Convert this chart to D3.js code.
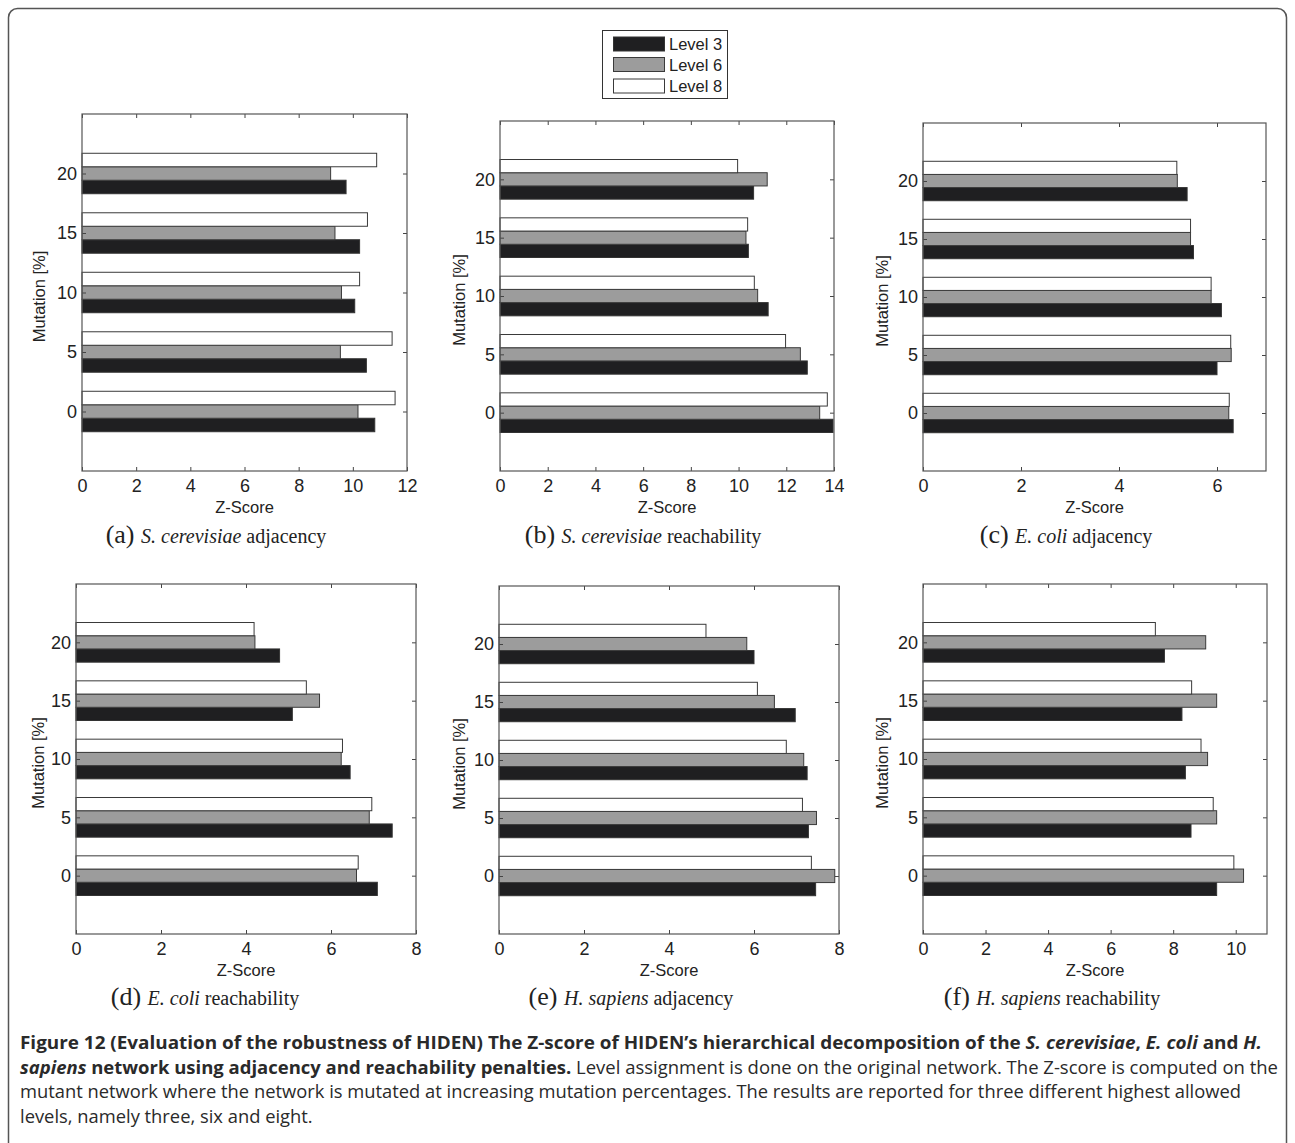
<!DOCTYPE html>
<html><head><meta charset="utf-8">
<script src="https://cdn.jsdelivr.net/npm/d3@7"></script>
<style>body{margin:0;background:#fff}svg{display:block}</style></head>
<body><svg id="c" width="1295" height="1143"></svg>
<script>
// ---------- data ----------
const mutations = [0, 5, 10, 15, 20];
const levels = ["Level 3", "Level 6", "Level 8"];
// (a) S. cerevisiae adjacency
const aL3 = [10.81, 10.50, 10.07, 10.25, 9.75];
const aL6 = [10.19, 9.54, 9.58, 9.34, 9.18];
const aL8 = [11.56, 11.45, 10.25, 10.54, 10.88];
// (b) S. cerevisiae reachability
const bL3 = [13.96, 12.88, 11.24, 10.41, 10.63];
const bL6 = [13.40, 12.59, 10.80, 10.31, 11.20];
const bL8 = [13.72, 11.97, 10.66, 10.38, 9.96];
// (c) E. coli adjacency
const cL3 = [6.33, 6.00, 6.09, 5.52, 5.39];
const cL6 = [6.24, 6.29, 5.88, 5.46, 5.19];
const cL8 = [6.25, 6.28, 5.88, 5.46, 5.18];
// (d) E. coli reachability
const dL3 = [7.09, 7.44, 6.45, 5.09, 4.79];
const dL6 = [6.60, 6.90, 6.24, 5.73, 4.21];
const dL8 = [6.64, 6.96, 6.27, 5.42, 4.19];
// (e) H. sapiens adjacency
const eL3 = [7.45, 7.28, 7.25, 6.97, 6.00];
const eL6 = [7.90, 7.47, 7.17, 6.48, 5.83];
const eL8 = [7.35, 7.14, 6.76, 6.08, 4.87];
// (f) H. sapiens reachability
const fL3 = [9.39, 8.57, 8.39, 8.28, 7.72];
const fL6 = [10.25, 9.39, 9.10, 9.39, 9.04];
const fL8 = [9.94, 9.28, 8.89, 8.59, 7.43];

const xMaxes = [12, 14, 7, 8, 8, 11];
const xTickLists = [
  [0, 2, 4, 6, 8, 10, 12],
  [0, 2, 4, 6, 8, 10, 12, 14],
  [0, 2, 4, 6],
  [0, 2, 4, 6, 8],
  [0, 2, 4, 6, 8],
  [0, 2, 4, 6, 8, 10]
];
const yTicks = [0, 5, 10, 15, 20];
const yDomain = [-5, 25];
const labelLetters = ["(a)", "(b)", "(c)", "(d)", "(e)", "(f)"];
const labelSpecies = ["S. cerevisiae", "S. cerevisiae", "E. coli", "E. coli", "H. sapiens", "H. sapiens"];
const labelPenalty = ["adjacency", "reachability", "adjacency", "reachability", "adjacency", "reachability"];
const xAxisTitle = "Z-Score";
const yAxisTitle = "Mutation [%]";

const seriesByPanel = [
  [aL3, aL6, aL8], [bL3, bL6, bL8], [cL3, cL6, cL8],
  [dL3, dL6, dL8], [eL3, eL6, eL8], [fL3, fL6, fL8]
];

// ---------- layout ----------
const boxes = [
  {l: 82, t: 114, r: 407, b: 471, yl: 37, lc: 216, lb: 543},
  {l: 500, t: 121, r: 834, b: 471, yl: 35, lc: 643, lb: 543},
  {l: 923, t: 123, r: 1266, b: 471, yl: 35, lc: 1066, lb: 543},
  {l: 76, t: 584, r: 416, b: 934, yl: 32, lc: 205, lb: 1005},
  {l: 499, t: 586, r: 839, b: 934, yl: 34, lc: 631, lb: 1005},
  {l: 923, t: 584, r: 1267, b: 934, yl: 35, lc: 1052, lb: 1005}
];
const fills = ["#1f1f21", "#9c9c9c", "#ffffff"];
const strokes = ["#333", "#3a3a3a", "#3a3a3a"];
const barW = 1.133;
const tickFont = "'Liberation Sans', Arial, sans-serif";

const svg = d3.select("#c");

// outer frame
svg.append("rect").attr("x", 8.5).attr("y", 8.5).attr("width", 1278).attr("height", 1200)
  .attr("rx", 9).attr("fill", "none").attr("stroke", "#555").attr("stroke-width", 1.5);

seriesByPanel.forEach((series, p) => {
  const B = boxes[p];
  const x = d3.scaleLinear().domain([0, xMaxes[p]]).range([B.l, B.r]);
  const y = d3.scaleLinear().domain(yDomain).range([B.b, B.t]);
  const g = svg.append("g");

  // bars
  series.forEach((vals, i) => {
    g.selectAll(null).data(mutations.map((m, k) => ({m, v: vals[k]}))).enter()
      .append("rect")
      .attr("x", x(0))
      .attr("y", d => y(d.m + (i - 1) * barW + barW / 2))
      .attr("width", d => x(d.v) - x(0))
      .attr("height", d => y(d.m + (i - 1) * barW - barW / 2) - y(d.m + (i - 1) * barW + barW / 2))
      .attr("fill", fills[i]).attr("stroke", strokes[i]).attr("stroke-width", 1);
  });

  // axes (inward ticks)
  const ax = (gen, tx, ty) => {
    const a = g.append("g").attr("transform", `translate(${tx},${ty})`).call(gen);
    a.select(".domain").remove();
    a.selectAll("line").attr("stroke", "#444");
    a.selectAll("text").attr("fill", "#222").style("font-family", tickFont).style("font-size", "18px");
    return a;
  };
  ax(d3.axisBottom(x).tickValues(xTickLists[p]).tickSize(-4).tickPadding(8).tickFormat(d3.format("d")), 0, B.b);
  ax(d3.axisTop(x).tickValues(xTickLists[p]).tickSize(-4).tickFormat(""), 0, B.t);
  ax(d3.axisLeft(y).tickValues(yTicks).tickSize(-4).tickPadding(5).tickFormat(d3.format("d")), B.l, 0);
  ax(d3.axisRight(y).tickValues(yTicks).tickSize(-4).tickFormat(""), B.r, 0);

  // frame
  g.append("rect").attr("x", B.l).attr("y", B.t).attr("width", B.r - B.l).attr("height", B.b - B.t)
    .attr("fill", "none").attr("stroke", "#555").attr("stroke-width", 1.2);

  // axis titles
  g.append("text").attr("x", (B.l + B.r) / 2).attr("y", B.b + 42).attr("text-anchor", "middle")
    .style("font-family", tickFont).style("font-size", "16.5px").attr("fill", "#222").text(xAxisTitle);
  g.append("text").attr("transform", `translate(${B.l - B.yl},${(B.t + B.b) / 2 + 4}) rotate(-90)`)
    .attr("text-anchor", "middle")
    .style("font-family", tickFont).style("font-size", "16.5px").attr("fill", "#222").text(yAxisTitle);

  // panel label
  const lab = g.append("text").attr("x", B.lc).attr("y", B.lb).attr("text-anchor", "middle")
    .style("font-family", "'Liberation Serif', 'Times New Roman', serif").attr("fill", "#222");
  lab.append("tspan").style("font-size", "26px").text(labelLetters[p] + " ");
  lab.append("tspan").style("font-size", "20px").style("font-style", "italic").text(labelSpecies[p]);
  lab.append("tspan").style("font-size", "20px").text(" " + labelPenalty[p]);
});

// legend
const lg = svg.append("g");
lg.append("rect").attr("x", 602.5).attr("y", 30.5).attr("width", 125).attr("height", 68)
  .attr("fill", "#fff").attr("stroke", "#333").attr("stroke-width", 1);
const swY = [37, 57.5, 79];
levels.forEach((name, i) => {
  lg.append("rect").attr("x", 613.5).attr("y", swY[i]).attr("width", 51).attr("height", 14)
    .attr("fill", fills[i]).attr("stroke", strokes[i]).attr("stroke-width", 1);
  lg.append("text").attr("x", 669).attr("y", swY[i] + 13).style("font-family", tickFont)
    .style("font-size", "16.5px").attr("fill", "#222").text(name);
});

// caption
const capFont = "'Open Sans', 'Noto Sans', sans-serif";
const capLines = [
  {y: 1049, w: 1242, parts: [
    ["Figure 12 (Evaluation of the robustness of HIDEN) The Z-score of HIDEN\u2019s hierarchical decomposition of the ", "bold", "normal"],
    ["S. cerevisiae", "bold", "italic"], [", ", "bold", "normal"], ["E. coli", "bold", "italic"],
    [" and ", "bold", "normal"], ["H.", "bold", "italic"]]},
  {y: 1074, w: 1258, parts: [
    ["sapiens", "bold", "italic"], [" network using adjacency and reachability penalties.", "bold", "normal"],
    [" Level assignment is done on the original network. The Z-score is computed on the", "normal", "normal"]]},
  {y: 1098, w: 1221, parts: [
    ["mutant network where the network is mutated at increasing mutation percentages. The results are reported for three different highest allowed", "normal", "normal"]]},
  {y: 1123, w: null, parts: [["levels, namely three, six and eight.", "normal", "normal"]]}
];
let ratio = 1;
capLines.forEach(L => {
  const t = svg.append("text").attr("x", 20).attr("y", L.y).style("font-family", capFont)
    .style("font-size", "18px").attr("fill", "#2a2a2a");
  L.parts.forEach(([s, w, st]) => t.append("tspan").style("font-weight", w).style("font-style", st).text(s));
  const nat = t.node().getComputedTextLength();
  const target = L.w ? L.w : nat * ratio;
  if (L.w) ratio = L.w / nat;
  t.attr("textLength", target).attr("lengthAdjust", "spacingAndGlyphs");
});
</script></body></html>
